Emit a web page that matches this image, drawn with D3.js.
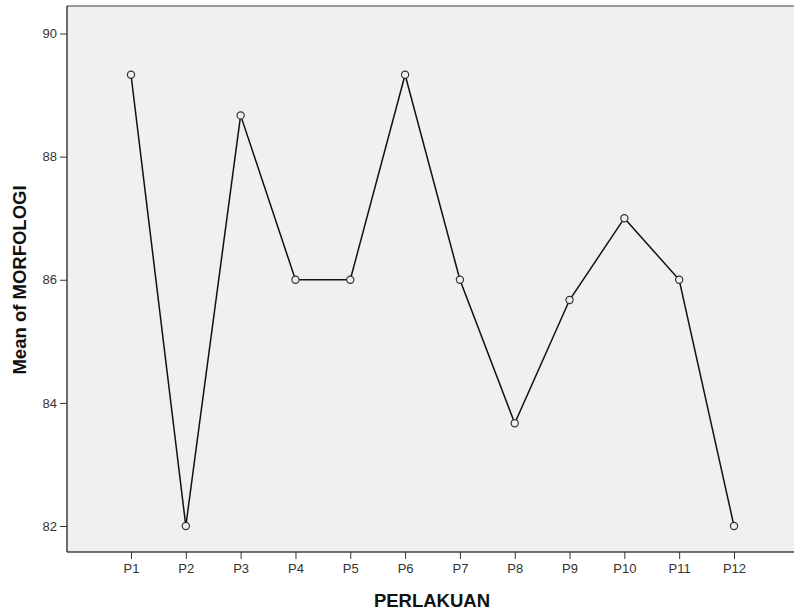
<!DOCTYPE html>
<html><head><meta charset="utf-8">
<script src="https://cdn.jsdelivr.net/npm/d3@7"></script>
<style>body{margin:0;background:#fff}svg{display:block}</style>
</head><body>
<script>
const categories = ["P1","P2","P3","P4","P5","P6","P7","P8","P9","P10","P11","P12"];
const meanValues = [89.33,82,88.67,86,86,89.33,86,83.67,85.67,87,86,82];
const yTicks = [82,84,86,88,90];

(function(){
const W=794,H=614;
const svg=d3.select("body").append("svg").attr("width",W).attr("height",H);
const pL=67, pT=6, pR=794, pB=552;
const ff="Arial, Liberation Sans, sans-serif";
svg.append("rect").attr("x",pL).attr("y",pT).attr("width",pR-pL).attr("height",pB-pT).attr("fill","#f0f0f0");
svg.append("line").attr("x1",pL).attr("x2",pR).attr("y1",pT).attr("y2",pT).attr("stroke","#9a9a9a").attr("stroke-width",2);

const x=d3.scalePoint().domain(categories).range([131,734]);
const y=d3.scaleLinear().domain([82,90]).range([526,33.5]);

const xAxis=svg.append("g").attr("transform",`translate(0,${pB})`)
  .call(d3.axisBottom(x).tickSize(7).tickSizeOuter(0).tickPadding(5));
xAxis.select(".domain").attr("stroke","#444").attr("stroke-width",1.3).attr("d",`M${pL},0H${pR}`);
xAxis.selectAll(".tick line").attr("stroke","#333");
xAxis.selectAll("text").attr("font-family",ff).attr("font-size",13).attr("fill","#333");

const yAxis=svg.append("g").attr("transform",`translate(${pL},0)`)
  .call(d3.axisLeft(y).tickValues(yTicks).tickSize(7).tickPadding(3));
yAxis.select(".domain").attr("stroke","#222").attr("stroke-width",1.3).attr("d",`M0,${pT}V${pB}`);
yAxis.selectAll(".tick line").attr("stroke","#333");
yAxis.selectAll("text").attr("font-family",ff).attr("font-size",13).attr("fill","#333");

const data=categories.map((c,i)=>({c,v:meanValues[i]}));
svg.append("path").datum(data).attr("fill","none").attr("stroke","#111").attr("stroke-width",1.5)
  .attr("d",d3.line().x(d=>x(d.c)).y(d=>y(d.v)));
svg.selectAll("circle.m").data(data).enter().append("circle")
  .attr("cx",d=>x(d.c)).attr("cy",d=>y(d.v)).attr("r",3.6)
  .attr("fill","#f0f0f0").attr("stroke","#333").attr("stroke-width",1.2);

svg.append("text").attr("x",432).attr("y",607).attr("text-anchor","middle")
  .attr("font-family",ff).attr("font-weight","bold").attr("font-size",18.5).attr("fill","#111").text("PERLAKUAN");
svg.append("text").attr("transform","translate(26,280) rotate(-90)").attr("text-anchor","middle")
  .attr("font-family",ff).attr("font-weight","bold").attr("font-size",18.5).attr("fill","#111").text("Mean of MORFOLOGI");
})();
</script>
</body></html>
